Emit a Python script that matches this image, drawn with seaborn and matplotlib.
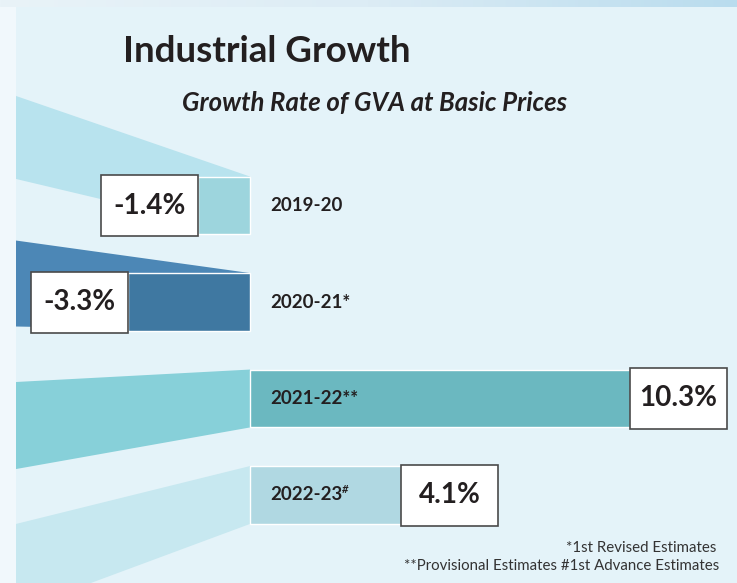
import numpy as np
import pandas as pd
import matplotlib.pyplot as plt
import seaborn as sns
from matplotlib.patches import Polygon, Rectangle
from matplotlib.colors import LinearSegmentedColormap

# DATA
years = ["2019-20", "2020-21", "2021-22", "2022-23"]
year_marks = ["", "*", "**", "#"]
growth = [-1.4, -3.3, 10.3, 4.1]
value_labels = ["-1.4%", "-3.3%", "10.3%", "4.1%"]

# STYLE
bar_colors = ["#9dd5dd", "#3f78a1", "#6bb8c0", "#b0d8e2"]
wing_colors = ["#b8e3ee", "#4c87b6", "#87d0d9", "#c7e8f0"]
# left end of the perspective wings (top, bottom), in row units from the bar centre
wing_offsets = [(-1.135, -0.275), (-0.637, 0.254), (-0.171, 0.731), (0.30, 1.20)]
bg = "#e4f3f9"
ink = "#231f20"

sns.set_theme(style="white")
plt.rcParams['font.family'] = ['Lato', 'DejaVu Sans']

df = pd.DataFrame({"year": years, "growth": growth})

W, H = 737, 583
px = 36.9      # pixels per percentage point
row = 96.5     # pixels between bar centres
zero_px, first_px = 250, 205.5
bar_h = 0.6

fig = plt.figure(figsize=(W / 100, H / 100), dpi=100)
fig.patch.set_facecolor(bg)
ax = fig.add_axes([0, 0, 1, 1])
ax.set_facecolor(bg)

sns.barplot(data=df, x="growth", y="year", hue="year", palette=bar_colors,
            width=bar_h, saturation=1, legend=False, orient="h", ax=ax, zorder=3)

ax.set_xlim(-zero_px / px, (W - zero_px) / px)
ax.set_ylim((H - first_px) / row, -first_px / row)
ax.axis("off")

# perspective wings behind the bars
x_left = (16 - zero_px) / px
for i, ((t, b), c) in enumerate(zip(wing_offsets, wing_colors)):
    ax.add_patch(Polygon([(x_left, i + t), (0, i - bar_h / 2), (0, i + bar_h / 2), (x_left, i + b)],
                         closed=True, facecolor=c, edgecolor="none", zorder=2))

# pale strip on the left edge
ax.add_patch(Rectangle((0, 0), 16 / W, 1, transform=ax.transAxes,
                       facecolor="#f1f8fc", edgecolor="none", zorder=1))

# value boxes
box_w, box_h = 97 / px, 61 / row
for i, (v, lab) in enumerate(zip(growth, value_labels)):
    x0 = v - box_w if v < 0 else v
    ax.add_patch(Rectangle((x0, i - box_h / 2), box_w, box_h, facecolor="white",
                           edgecolor="#4a4a4a", linewidth=1.2, zorder=5))
    ax.text(x0 + box_w / 2, i, lab, ha="center", va="center", fontsize=20,
            fontweight="bold", color=ink, zorder=6)

# year labels
for i, (y, m) in enumerate(zip(years, year_marks)):
    if m == "#":
        t = ax.text(20 / px, i, y, ha="left", va="center", fontsize=13.5,
                    fontweight="bold", color=ink, zorder=6)
        ax.annotate(m, xy=(1, 0.85), xycoords=t, ha="left", va="center", fontsize=8,
                    fontweight="bold", fontstyle="italic", color=ink, zorder=6)
    else:
        ax.text(20 / px, i, y + m, ha="left", va="center", fontsize=13.5,
                fontweight="bold", color=ink, zorder=6)

# top decorative strip
strip = fig.add_axes([0, 1 - 7 / H, 1, 7 / H])
cmap = LinearSegmentedColormap.from_list("strip", ["#e9f3f8", "#dcecf5", "#b9dcee"])
strip.imshow(np.linspace(0, 1, 256)[None, :], aspect="auto", cmap=cmap)
strip.axis("off")

# titles and notes
fig.text(267 / W, 1 - 52 / H, "Industrial Growth", ha="center", va="center",
         fontsize=26.5, fontweight="bold", color=ink)
fig.text(375 / W, 1 - 103 / H, "Growth Rate of GVA at Basic Prices", ha="center", va="center",
         fontsize=18.5, fontweight="bold", fontstyle="italic", color=ink)
fig.text(716 / W, 1 - 548 / H, "*1st Revised Estimates", ha="right", va="center",
         fontsize=10.8, color="#333333")
fig.text(719 / W, 1 - 566 / H, "**Provisional Estimates #1st Advance Estimates", ha="right",
         va="center", fontsize=10.8, color="#333333")

fig.savefig("out.png", dpi=100, facecolor=fig.get_facecolor())
